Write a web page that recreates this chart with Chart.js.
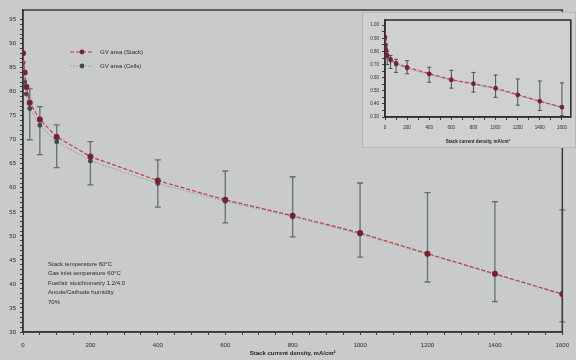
<!DOCTYPE html>
<html>
<head>
<meta charset="utf-8">
<script src="https://cdn.jsdelivr.net/npm/chart.js@4.4.1/dist/chart.umd.min.js"></script>
<style>
    html, body { margin: 0; padding: 0; background: #c8cbc9; }
    #wrap { position: relative; width: 576px; height: 360px; overflow: hidden; }
    #main { position: absolute; left: 0; top: 0; }
    #insetBox { position: absolute; left: 362px; top: 12px; width: 214px; height: 136px; background: #ced1cf; border: 1px solid #b6b9b7; box-sizing: border-box; }
    #inset { position: absolute; left: 362px; top: 12px; }
</style>
</head>
<body>
<div id="wrap">
    <canvas id="main" width="576" height="360"></canvas>
    <div id="insetBox"></div>
    <canvas id="inset" width="214" height="136"></canvas>
</div>
<script>
// Data
const currentDensity = [0, 5, 10, 20, 50, 100, 200, 400, 600, 800, 1000, 1200, 1400, 1600];
const stackVoltage = [88.0, 84.0, 81.0, 77.7, 74.2, 70.6, 66.5, 61.5, 57.5, 54.2, 50.6, 46.3, 42.1, 37.9];
const cellsVoltage = [86.0, 82.0, 79.5, 76.5, 73.0, 69.6, 65.6, 60.9, 57.2, 54.0, 50.4, 46.2, 42.0, 37.8];
const errHigh = [null, null, null, 80.6, 76.9, 73.1, 69.6, 65.8, 63.5, 62.3, 61.0, 59.0, 57.1, 55.4];
const errLow = [null, null, null, 70.0, 66.9, 64.2, 60.6, 56.0, 52.7, 49.8, 45.6, 40.4, 36.3, 32.1];

const insetStack = [0.91, 0.85, 0.81, 0.77, 0.74, 0.71, 0.68, 0.63, 0.585, 0.555, 0.52, 0.47, 0.42, 0.375];
const insetCells = [0.89, 0.83, 0.79, 0.76, 0.73, 0.70, 0.67, 0.625, 0.58, 0.55, 0.515, 0.465, 0.418, 0.372];
const insetErrHigh = [null, null, null, 0.80, 0.77, 0.74, 0.73, 0.68, 0.656, 0.64, 0.62, 0.59, 0.575, 0.56];
const insetErrLow = [null, null, null, 0.70, 0.67, 0.64, 0.63, 0.565, 0.52, 0.49, 0.45, 0.39, 0.35, 0.31];

const seriesNames = ['GV area (Stack)', 'GV area (Cells)'];
const xTicks = [0, 200, 400, 600, 800, 1000, 1200, 1400, 1600];
const yTicks = [30, 35, 40, 45, 50, 55, 60, 65, 70, 75, 80, 85, 90, 95];
const insetYTicks = [0.3, 0.4, 0.5, 0.6, 0.7, 0.8, 0.9, 1.0];
const xTitle = 'Stack current density, mA/cm²';
const notes = ['Stack temperature 60°C', 'Gas inlet temperature 60°C', 'Fuel/air stoichiometry 1.2/4.0', 'Anode/Cathode humidity', '70%'];

const FONT = 'Arial, "Liberation Sans", sans-serif';
const toPoints = (ys) => currentDensity.map((x, i) => ({ x: x, y: ys[i] }));

function range(a, b, step) {
    const out = [];
    for (let v = a; v <= b + 1e-9; v += step) out.push(+v.toFixed(3));
    return out;
}

// error bars drawn through the chart's own scales
const errorBars = {
    id: 'errorBars',
    beforeDatasetsDraw(chart, args, opts) {
        const { ctx, scales: { x, y } } = chart;
        ctx.save();
        ctx.strokeStyle = opts.color;
        ctx.lineWidth = opts.width;
        opts.high.forEach((hi, i) => {
            const lo = opts.low[i];
            if (hi == null || lo == null) return;
            const px = x.getPixelForValue(currentDensity[i]);
            const top = y.getPixelForValue(hi), bot = y.getPixelForValue(lo);
            ctx.beginPath();
            ctx.moveTo(px, top); ctx.lineTo(px, bot);
            ctx.moveTo(px - opts.cap, top); ctx.lineTo(px + opts.cap, top);
            ctx.moveTo(px - opts.cap, bot); ctx.lineTo(px + opts.cap, bot);
            ctx.stroke();
        });
        ctx.restore();
    }
};

const frame = {
    id: 'frame',
    beforeDatasetsDraw(chart, args, opts) {
        const { ctx, chartArea: a } = chart;
        ctx.save();
        ctx.strokeStyle = opts.color;
        ctx.lineWidth = opts.width;
        ctx.strokeRect(a.left, a.top, a.right - a.left, a.bottom - a.top);
        ctx.restore();
    }
};

const legendAndNotes = {
    id: 'legendAndNotes',
    afterDraw(chart) {
        const ctx = chart.ctx;
        ctx.save();
        ctx.font = '6px ' + FONT;
        ctx.textBaseline = 'middle';
        chart.data.datasets.forEach((ds, i) => {
            const yy = 52 + i * 14;
            ctx.strokeStyle = ds.borderColor;
            ctx.lineWidth = ds.borderWidth;
            ctx.setLineDash(ds.borderDash);
            ctx.beginPath(); ctx.moveTo(70, yy); ctx.lineTo(94, yy); ctx.stroke();
            ctx.setLineDash([]);
            ctx.fillStyle = ds.pointBackgroundColor;
            ctx.beginPath(); ctx.arc(82, yy, 2.4, 0, Math.PI * 2); ctx.fill();
            ctx.fillStyle = '#2b2b2b';
            ctx.fillText(ds.label, 100, yy);
        });
        notes.forEach((t, i) => ctx.fillText(t, 48, 264 + i * 9.5));
        ctx.restore();
    }
};

function lineDatasets(stack, cells, r) {
    return [{
        label: seriesNames[0],
        data: toPoints(stack),
        borderColor: '#c43c43',
        borderWidth: 1.2,
        borderDash: [4, 2],
        pointRadius: r,
        pointBackgroundColor: '#7a2036',
        pointBorderColor: '#7a2036',
        tension: 0
    }, {
        label: seriesNames[1],
        data: toPoints(cells),
        borderColor: '#8fa3a0',
        borderWidth: 1.1,
        borderDash: [1.5, 1.5],
        pointRadius: r * 0.8,
        pointBackgroundColor: '#45475a',
        pointBorderColor: '#45475a',
        tension: 0
    }];
}

function axis(min, max, major, minorStep, size, fixed, fit, extra) {
    return Object.assign({
        type: 'linear',
        min: min,
        max: max,
        afterBuildTicks: (s) => { s.ticks = range(major[0], major[major.length - 1], minorStep).map(v => ({ value: v })); },
        afterFit: fit,
        grid: { drawOnChartArea: false, drawTicks: true, tickLength: 3, color: '#3a3a3a' },
        border: { display: true, color: '#2f2f2f', width: 1.5 },
        ticks: {
            autoSkip: false,
            maxRotation: 0,
            color: '#2b2b2b',
            font: { size: size, family: FONT },
            callback: (v) => major.some(m => Math.abs(m - v) < 1e-6) ? (fixed ? v.toFixed(fixed) : v) : ''
        }
    }, extra);
}

new Chart(document.getElementById('main'), {
    type: 'line',
    data: { datasets: lineDatasets(stackVoltage, cellsVoltage, 2.4) },
    options: {
        responsive: false,
        animation: false,
        devicePixelRatio: 1,
        layout: { padding: { top: 10, right: 4, left: 0, bottom: 0 } },
        plugins: {
            legend: { display: false },
            tooltip: { enabled: false },
            errorBars: { high: errHigh, low: errLow, color: '#666c7c', width: 1.3, cap: 3 },
            frame: { color: '#3a3a3a', width: 1.5 }
        },
        scales: {
            x: axis(0, 1600, xTicks, 50, 6, 0, (s) => { s.height = 28; }, {
                title: { display: true, text: xTitle, color: '#222', font: { size: 6, weight: 'bold', family: FONT }, padding: { top: 0, bottom: 3 } },
                ticks: Object.assign(axis(0, 1600, xTicks, 50, 6, 0).ticks, { padding: 7 })
            }),
            y: axis(30, 97, yTicks, 1, 6, 0, (s) => { s.width = 23; }, {
                ticks: Object.assign(axis(30, 97, yTicks, 1, 6, 0).ticks, { padding: 4 })
            })
        }
    },
    plugins: [errorBars, frame, legendAndNotes]
});

new Chart(document.getElementById('inset'), {
    type: 'line',
    data: { datasets: lineDatasets(insetStack, insetCells, 1.7) },
    options: {
        responsive: false,
        animation: false,
        devicePixelRatio: 1,
        layout: { padding: { top: 8, right: 4, left: 0, bottom: 0 } },
        plugins: {
            legend: { display: false },
            tooltip: { enabled: false },
            errorBars: { high: insetErrHigh, low: insetErrLow, color: '#3c3f55', width: 0.9, cap: 2 },
            frame: { color: '#333', width: 1.6 }
        },
        scales: {
            x: axis(0, 1680, xTicks, 100, 4.5, 0, (s) => { s.height = 31; }, {
                title: { display: true, text: xTitle, color: '#222', font: { size: 4.5, weight: 'bold', family: FONT }, padding: { top: 0, bottom: 4 } },
                ticks: Object.assign(axis(0, 1680, xTicks, 100, 4.5, 0).ticks, { padding: 5 })
            }),
            y: axis(0.3, 1.04, insetYTicks, 0.05, 4.5, 2, (s) => { s.width = 23; }, {
                ticks: Object.assign(axis(0.3, 1.04, insetYTicks, 0.05, 4.5, 2).ticks, { padding: 3 })
            })
        }
    },
    plugins: [errorBars, frame]
});
</script>
</body>
</html>
